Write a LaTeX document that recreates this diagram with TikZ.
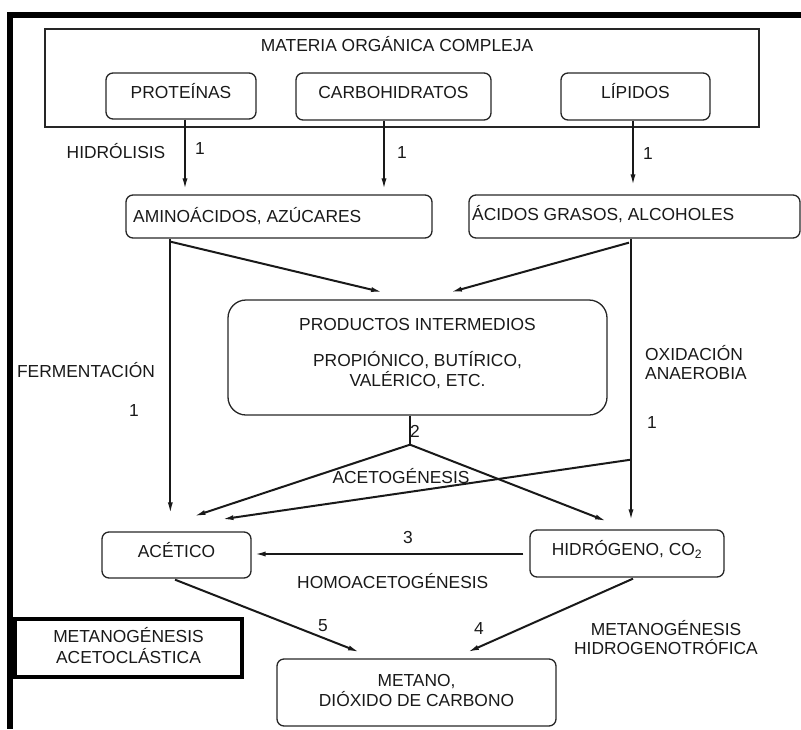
\documentclass[tikz,border=0pt]{standalone}
\usepackage{fontspec}
\setmainfont{Liberation Sans}
\usetikzlibrary{arrows.meta,calc}
\begin{document}
\begin{tikzpicture}[x=1pt,y=-1pt,
  every node/.style={font=\fontsize{17.4}{20}\selectfont, text=black!90},
  rbox/.style={draw=black!85, line width=1.3pt, rounded corners=7pt, inner sep=0pt,
    text height=12.5pt, text depth=8pt},
  sqbox/.style={draw=black!85, line width=1.3pt, inner sep=0pt},
  heavybox/.style={draw=black, line width=3.4pt, inner sep=0pt},
  lbl/.style={inner sep=0pt, anchor=base},
  lblw/.style={inner sep=0pt, anchor=base west},
  conn/.style={line width=2pt, draw=black!90},
  arr/.style={conn, -{Latex[length=12pt,width=5pt]}}]
\useasboundingbox (0,0) rectangle (801,729);

% frame bars
\fill[black] (7,12) rectangle (13,729);
\fill[black] (7,12) rectangle (801,17.5);

% top container and its three components
\node[sqbox, minimum width=714pt, minimum height=98pt] (mat) at (402,78) {};
\node[lbl] (matt) at (397,51) {MATERIA ORGÁNICA COMPLEJA};
\node[rbox, minimum width=150pt, minimum height=46pt] (prot) at (181,96) {PROTEÍNAS};
\node[rbox, minimum width=195pt, minimum height=47pt] (carb) at (393.5,96.5) {CARBOHIDRATOS};
\node[rbox, minimum width=149pt, minimum height=47pt] (lip) at (635.5,96.5) {LÍPIDOS};

% hydrolysis products
\node[rbox, minimum width=306pt, minimum height=43pt] (amino) at (279,216.5) {};
\node[lblw] (aminot) at (133,222.5) {AMINOÁCIDOS, AZÚCARES};
\node[rbox, minimum width=331pt, minimum height=43pt] (acid) at (634.5,216.5) {};
\node[lblw] (acidt) at (472,220.5) {ÁCIDOS GRASOS, ALCOHOLES};

% intermediate products
\node[rbox, rounded corners=18pt, minimum width=379pt, minimum height=115pt] (prod) at (417.5,357.5) {};
\node[lbl] (prod1) at (417.5,330) {PRODUCTOS INTERMEDIOS};
\node[lbl] (prod2) at (417.5,366) {PROPIÓNICO, BUTÍRICO,};
\node[lbl] (prod3) at (417.5,386) {VALÉRICO, ETC.};

% acetic acid, hydrogen and final products
\node[rbox, minimum width=149pt, minimum height=46pt] (acet) at (176.5,555) {ACÉTICO};
\node[rbox, minimum width=194pt, minimum height=47pt] (hidro) at (627,553.5) {HIDRÓGENO, CO\textsubscript{2}};
\node[rbox, minimum width=279pt, minimum height=67pt] (metano) at (416.5,692.5) {};
\node[lbl] (met1) at (416.5,686) {METANO,};
\node[lbl] (met2) at (416.5,706) {DIÓXIDO DE CARBONO};
\node[heavybox, minimum width=227pt, minimum height=58pt] (aclas) at (128.5,648) {};
\node[lbl] (aclas1) at (128.5,642) {METANOGÉNESIS};
\node[lbl] (aclas2) at (128.5,663) {ACETOCLÁSTICA};

% free labels
\node[lbl] (lhid) at (116,158.5) {HIDRÓLISIS};
\node[lbl] (n1a) at (200,154) {1};
\node[lbl] (n1b) at (402,158) {1};
\node[lbl] (n1c) at (648,159) {1};
\node[lbl] (lfer) at (86,377) {FERMENTACIÓN};
\node[lbl] (n1d) at (134,416) {1};
\node[lblw] (lox1) at (645,360) {OXIDACIÓN};
\node[lblw] (lox2) at (645,379) {ANAEROBIA};
\node[lbl] (n1e) at (652,428) {1};
\node[lbl] (n2) at (415,437) {2};
\node[lbl] (lacg) at (401,483) {ACETOGÉNESIS};
\node[lbl] (n3) at (408,543) {3};
\node[lblw] (lhom) at (297,588) {HOMOACETOGÉNESIS};
\node[lbl] (n5) at (323,631) {5};
\node[lbl] (n4) at (479,634) {4};
\node[lbl] (lhg1) at (666,635) {METANOGÉNESIS};
\node[lbl] (lhg2) at (666,654) {HIDROGENOTRÓFICA};

% hydrolysis
\coordinate (hp) at ($(prot.south)+(4,0)$);
\coordinate (hc) at ($(carb.south)+(-9.5,0)$);
\coordinate (hl) at ($(lip.south)+(-2.5,0)$);
\draw[arr, shorten >=4pt] (hp) -- (hp |- amino.north);
\draw[arr, shorten >=4pt] (hc) -- (hc |- amino.north);
\draw[arr, shorten >=8pt] (hl) -- (hl |- acid.north);

% fermentation
\coordinate (fa) at ($(amino.south west)+(45,0)$);
\draw[arr, shorten >=17pt] (fa) -- (fa |- acet.north);
\draw[arr] ($(fa)+(0,3)$) -- ($(prod.north)+(-34.5,-7)$);

% anaerobic oxidation
\coordinate (oa) at ($(acid.south)+(-3.5,0)$);
\draw[arr] ($(acid.south)+(-5.5,4)$) -- ($(prod.north)+(32.5,-7)$);
\draw[arr, shorten >=8pt] (oa) -- (oa |- hidro.north);
\coordinate (ob) at ($(oa)+(0,221)$);
\draw[arr] (ob) -- ($(acet.north)+(45,-12)$);

% acetogenesis
\coordinate (j) at ($(prod.south)+(-7.5,29)$);
\draw[conn] (prod.south -| j) -- (j);
\draw[arr] (j) -- ($(acet.north)+(17,-15)$);
\draw[arr] (j) -- ($(hidro.north)+(-20,-8)$);

% homoacetogenesis
\draw[arr] ($(hidro.west)+(-6,0.5)$) -- ($(acet.east)+(2,-1)$);

% methanogenesis
\draw[arr] ($(acet.south)+(-1.5,1)$) -- ($(metano.north)+(-56.5,-6)$);
\draw[arr] ($(hidro.south)+(6,1)$) -- ($(metano.north)+(50.5,-6)$);
\end{tikzpicture}
\end{document}
